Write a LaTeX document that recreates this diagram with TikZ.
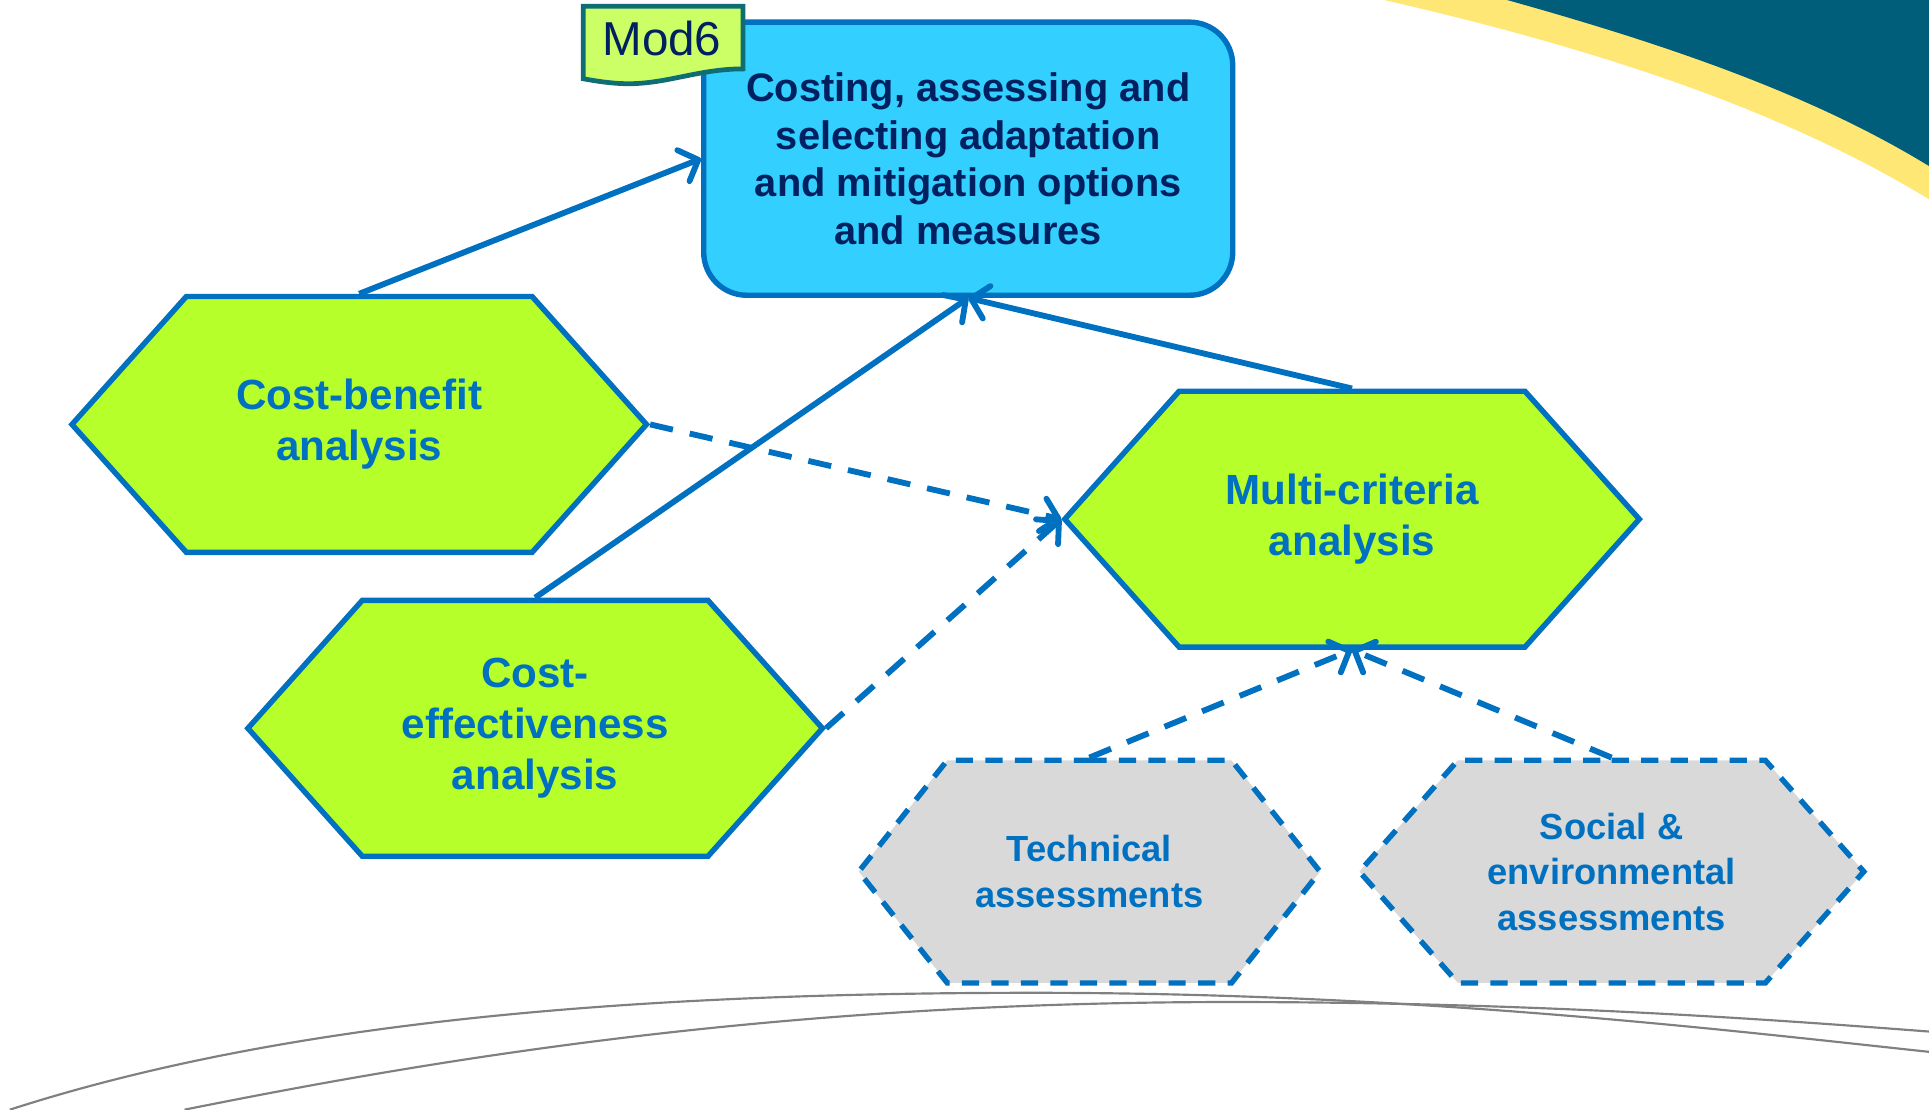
\documentclass[tikz,border=0pt]{standalone}
\usepackage{fontspec}
\setmainfont{Liberation Sans}
\usetikzlibrary{shapes.symbols,arrows.meta}
\definecolor{linkblue}{HTML}{0070C0}
\definecolor{goalcyan}{HTML}{33CFFF}
\definecolor{methodgreen}{HTML}{B6FF2B}
\definecolor{assessgray}{HTML}{D9D9D9}
\definecolor{navy}{HTML}{002060}
\definecolor{tagfill}{HTML}{CCFF66}
\definecolor{tagline}{HTML}{0F6D73}
\definecolor{cornerteal}{HTML}{005E7B}
\definecolor{banyellow}{HTML}{FFE775}
\begin{document}
\begin{tikzpicture}
            [
                goal/.style = {draw=linkblue, line width=2.5pt, fill=goalcyan, rounded corners=0.7cm,
                    minimum width=8.6cm, minimum height=4.44cm, align=center, text=navy,
                    font=\fontsize{18.4}{22}\selectfont\bfseries},
                method/.style = {signal, signal to=east and west, signal pointer angle=96.4,
                    draw=linkblue, line width=2.5pt, fill=methodgreen, minimum width=9.34cm,
                    minimum height=4.16cm, align=center, text=linkblue,
                    font=\fontsize{19.5}{23.5}\selectfont\bfseries},
                assess/.style = {method, fill=assessgray, dash pattern=on 0.28cm off 0.2cm,
                    minimum height=3.62cm, font=\fontsize{16.8}{21}\selectfont\bfseries},
                link/.style = {draw=linkblue, line width=2.7pt,
                    -{Straight Barb[length=2.6mm, width=5.4mm, round]}}
            ]
            \useasboundingbox (0, 0) rectangle (31.36, 18.04);
            % corner decoration and bottom swooshes
            \fill[banyellow] (22.5, 18.04) .. controls (26, 17.24) and (29, 16.24) .. (31.36, 14.8)
                -- (31.36, 18.04) -- cycle;
            \fill[cornerteal] (24.5, 18.04) .. controls (27, 17.34) and (29.4, 16.54) .. (31.36, 15.34)
                -- (31.36, 18.04) -- cycle;
            \draw[gray, line width=1pt] (0.16, 0) .. controls (4.5, 1.4) and (10, 1.9) .. (16.8, 1.9)
                .. controls (23, 1.9) and (28, 1.3) .. (31.36, 0.94);
            \draw[gray, line width=1pt] (3, 0) .. controls (7, 0.8) and (12.5, 1.75) .. (20, 1.75)
                .. controls (25, 1.75) and (29, 1.45) .. (31.36, 1.27);
            \node[goal] (main) at (15.74, 15.46) {Costing, assessing and\\selecting adaptation\\and mitigation options\\and measures};
            \draw[fill=tagfill, draw=tagline, line width=2.2pt] (9.48, 17.94) -- (12.08, 17.94) -- (12.08, 16.92)
                .. controls (11.4, 16.92) and (10.9, 16.7) .. (10.3, 16.68)
                .. controls (10, 16.67) and (9.7, 16.72) .. (9.48, 16.76) -- cycle;
            \node[text=navy, font=\fontsize{22}{26}\selectfont] (tag) at (10.76, 17.42) {Mod6};
            \node[method] (cba) at (5.84, 11.14) {Cost-benefit\\analysis};
            \node[method] (cea) at (8.7, 6.2) {Cost-\\effectiveness\\analysis};
            \node[method] (mca) at (21.98, 9.6) {Multi-criteria\\analysis};
            \node[assess, minimum width=7.5cm, signal pointer angle=103] (tech) at (17.71, 3.87) {Technical\\assessments};
            \node[assess, minimum width=8.2cm, signal pointer angle=97] (social) at (26.2, 3.87) {Social \&\\environmental\\assessments};
            \draw[link] (cba.north) -- (main.west);
            \draw[link] (cea.north) -- (main.south);
            \draw[link] (mca.north) -- (main.south);
            \draw[link, dash pattern=on 0.38cm off 0.28cm] (cba.east) -- (mca.west);
            \draw[link, dash pattern=on 0.38cm off 0.28cm] (cea.east) -- (mca.west);
            \draw[link, dash pattern=on 0.38cm off 0.28cm] (tech.north) -- (mca.south);
            \draw[link, dash pattern=on 0.38cm off 0.28cm] (social.north) -- (mca.south);
        \end{tikzpicture}
\end{document}
